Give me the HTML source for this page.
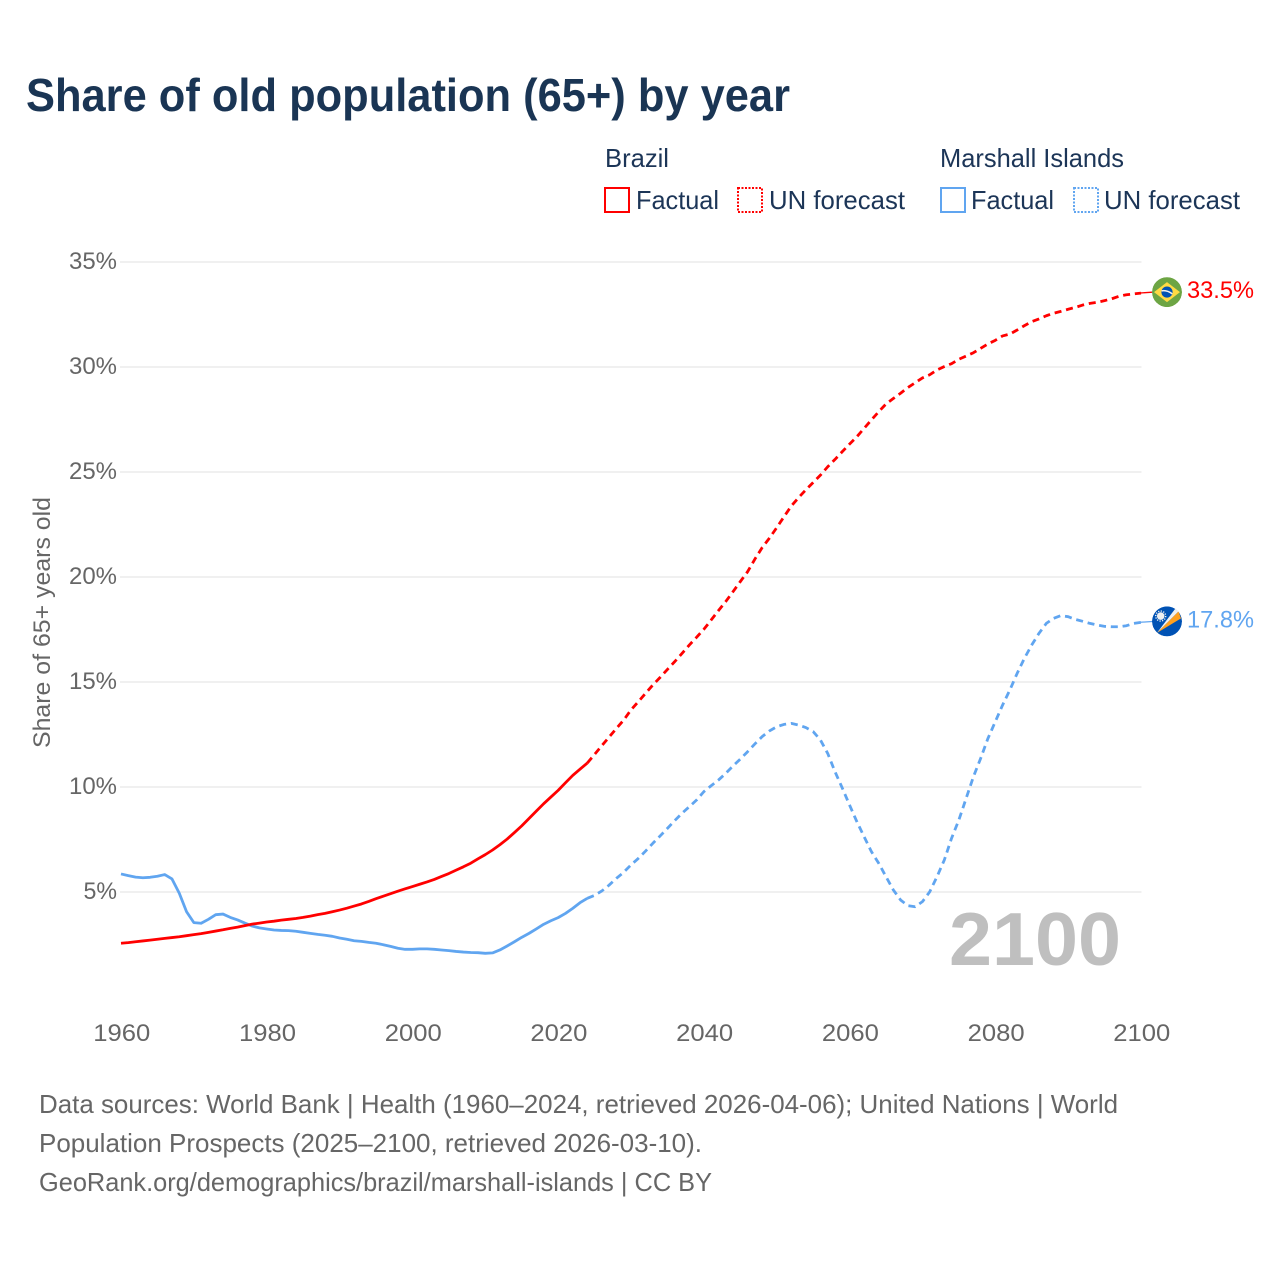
<!DOCTYPE html>
<html lang="en">
<head>
<meta charset="utf-8">
<title>Share of old population (65+) by year</title>
<style>
html,body{margin:0;padding:0;background:#fff;}
svg{display:block;font-family:"Liberation Sans",sans-serif;}
</style>
</head>
<body>
<svg id="chart" width="1280" height="1280" viewBox="0 0 1280 1280" xmlns="http://www.w3.org/2000/svg">
  <rect x="0" y="0" width="1280" height="1280" fill="#fff"/>
  <text x="26" y="111" font-size="46" font-weight="700" fill="#1a3554" textLength="764" lengthAdjust="spacingAndGlyphs">Share of old population (65+) by year</text>

  <g font-size="26" fill="#1c3557">
    <text x="605" y="167" textLength="64" lengthAdjust="spacingAndGlyphs">Brazil</text>
    <rect x="605" y="188" width="24" height="24" fill="none" stroke="#ff0000" stroke-width="2"/>
    <text x="636" y="209" textLength="83" lengthAdjust="spacingAndGlyphs">Factual</text>
    <rect x="738" y="188" width="24" height="24" fill="none" stroke="#ff0000" stroke-width="2" stroke-dasharray="2 1.5"/>
    <text x="769" y="209" textLength="136" lengthAdjust="spacingAndGlyphs">UN forecast</text>
    <text x="940" y="167" textLength="184" lengthAdjust="spacingAndGlyphs">Marshall Islands</text>
    <rect x="941" y="188" width="24" height="24" fill="none" stroke="#60a5f0" stroke-width="2"/>
    <text x="971" y="209" textLength="83" lengthAdjust="spacingAndGlyphs">Factual</text>
    <rect x="1074" y="188" width="24" height="24" fill="none" stroke="#60a5f0" stroke-width="2" stroke-dasharray="2 1.5"/>
    <text x="1104" y="209" textLength="136" lengthAdjust="spacingAndGlyphs">UN forecast</text>
  </g>

  <g id="grid"></g>
  <g id="yticks" font-size="24" fill="#666"></g>
  <g id="xticks" font-size="24" fill="#666"></g>
  <text transform="translate(50 622.5) rotate(-90)" text-anchor="middle" font-size="24" fill="#666" textLength="251" lengthAdjust="spacingAndGlyphs">Share of 65+ years old</text>

  <text x="949" y="965" font-size="75" font-weight="700" fill="#bfbfbf" textLength="172" lengthAdjust="spacingAndGlyphs">2100</text>

  <g id="series"></g>

  <defs>
    <clipPath id="flag-clip"><circle cx="0" cy="0" r="15"/></clipPath>
  </defs>
  <g id="flag-brazil">
    <g clip-path="url(#flag-clip)">
      <circle cx="0" cy="0" r="15" fill="#6da544"/>
      <polygon points="0,-10 13,0 0,10 -13,0" fill="#ffda44"/>
      <circle cx="0" cy="0" r="5.6" fill="#0052b4"/>
      <path d="M-5.4,-1.2 Q0,-2.2 5.2,1.8" fill="none" stroke="#f0f0f0" stroke-width="1.5"/>
    </g>
  </g>
  <g id="flag-marshall">
    <g clip-path="url(#flag-clip)">
      <circle cx="0" cy="0" r="15" fill="#0052b4"/>
      <polygon points="-10,11.5 11.5,-10 14,-3" fill="#ffa01e"/>
      <polygon points="-10,11.5 8.5,-13 11.5,-10" fill="#f0f0f0"/>
      <circle cx="-6.3" cy="-5.3" r="3.8" fill="#f0f0f0"/>
      <circle cx="-6.3" cy="-5.3" r="5" fill="none" stroke="#f0f0f0" stroke-width="1.4" stroke-dasharray="1.2 1.4"/>
    </g>
  </g>
  <text id="value-brazil" x="1187" font-size="24" fill="#ff0000" textLength="67" lengthAdjust="spacingAndGlyphs"></text>
  <text id="value-marshall" x="1187" font-size="24" fill="#60a5f0" textLength="67" lengthAdjust="spacingAndGlyphs"></text>

  <g font-size="26" fill="#666">
    <text x="39" y="1113" textLength="1079" lengthAdjust="spacingAndGlyphs">Data sources: World Bank | Health (1960–2024, retrieved 2026-04-06); United Nations | World</text>
    <text x="39" y="1152" textLength="663" lengthAdjust="spacingAndGlyphs">Population Prospects (2025–2100, retrieved 2026-03-10).</text>
    <text x="39" y="1191" textLength="673" lengthAdjust="spacingAndGlyphs">GeoRank.org/demographics/brazil/marshall-islands | CC BY</text>
  </g>
</svg>
<script>
const xTickLabels = [1960, 1980, 2000, 2020, 2040, 2060, 2080, 2100];
const yTickValues = [5, 10, 15, 20, 25, 30, 35];
const factualStartYear = 1960;
const forecastStartYear = 2024;
const brazilFactual = [2.56,2.59,2.63,2.67,2.71,2.75,2.79,2.83,2.87,2.92,2.97,3.02,3.08,3.14,3.2,3.27,3.33,3.4,3.47,3.52,3.57,3.61,3.66,3.7,3.74,3.79,3.85,3.92,3.98,4.06,4.14,4.23,4.33,4.43,4.55,4.68,4.8,4.92,5.04,5.15,5.26,5.37,5.48,5.6,5.74,5.88,6.04,6.2,6.37,6.58,6.78,7.0,7.25,7.52,7.83,8.15,8.5,8.85,9.2,9.52,9.84,10.2,10.55,10.85,11.14];
const brazilForecast = [11.14,11.55,11.97,12.38,12.79,13.19,13.67,14.06,14.46,14.86,15.22,15.6,15.97,16.36,16.76,17.13,17.51,17.95,18.4,18.83,19.3,19.78,20.25,20.85,21.4,21.85,22.35,22.87,23.38,23.78,24.15,24.5,24.85,25.25,25.6,25.97,26.33,26.68,27.08,27.48,27.87,28.24,28.5,28.75,29.02,29.25,29.48,29.63,29.86,30.02,30.16,30.37,30.52,30.68,30.89,31.1,31.27,31.48,31.57,31.76,31.97,32.16,32.29,32.44,32.56,32.65,32.75,32.84,32.95,33.03,33.08,33.16,33.25,33.37,33.44,33.48,33.52];
const marshallFactual = [5.86,5.78,5.71,5.68,5.7,5.75,5.83,5.62,4.94,4.06,3.54,3.51,3.7,3.92,3.95,3.79,3.67,3.52,3.38,3.29,3.24,3.19,3.17,3.16,3.13,3.08,3.03,2.98,2.94,2.89,2.81,2.75,2.68,2.65,2.6,2.56,2.49,2.41,2.32,2.27,2.27,2.29,2.29,2.27,2.24,2.21,2.17,2.14,2.12,2.11,2.08,2.1,2.24,2.43,2.63,2.84,3.03,3.24,3.46,3.63,3.78,3.98,4.22,4.49,4.7];
const marshallForecast = [4.7,4.84,5.05,5.33,5.65,5.94,6.29,6.6,6.95,7.32,7.67,8.03,8.4,8.75,9.06,9.38,9.78,10.06,10.33,10.65,11.0,11.33,11.68,12.05,12.4,12.67,12.87,12.98,13.03,12.95,12.83,12.64,12.24,11.6,10.73,9.95,9.14,8.35,7.63,6.92,6.37,5.73,5.1,4.62,4.35,4.3,4.54,5.01,5.73,6.52,7.56,8.43,9.46,10.49,11.37,12.32,13.11,13.9,14.62,15.41,16.13,16.76,17.32,17.79,18.03,18.16,18.11,17.98,17.89,17.79,17.71,17.65,17.63,17.63,17.68,17.79,17.84];

const SVGNS = 'http://www.w3.org/2000/svg';
const xScale = function (year) { return 121 + (year - 1960) * (1020 / 140); };
const yScale = function (value) { return 997 - value * 21; };

function makeSvg(tag, attrs) {
  const el = document.createElementNS(SVGNS, tag);
  Object.keys(attrs).forEach(function (k) { el.setAttribute(k, attrs[k]); });
  return el;
}
function pointsFor(values, startYear) {
  return values.map(function (v, i) {
    return xScale(startYear + i).toFixed(2) + ',' + yScale(v).toFixed(2);
  }).join(' ');
}

const gridGroup = document.getElementById('grid');
const yTickGroup = document.getElementById('yticks');
yTickValues.forEach(function (v) {
  const line = makeSvg('rect', { x: 120, y: yScale(v) - 1, width: 1021.5, height: 2, fill: '#f0f0f0' });
  
  
  gridGroup.appendChild(line);
  const label = makeSvg('text', { x: 117, y: yScale(v) + 7, 'text-anchor': 'end', textLength: String(v).length * 14.5 + 19, lengthAdjust: 'spacingAndGlyphs' });
  
  
  label.textContent = v + '%';
  yTickGroup.appendChild(label);
});

const xTickGroup = document.getElementById('xticks');
xTickLabels.forEach(function (year) {
  const label = makeSvg('text', { x: xScale(year) + 0.8, y: 1041, 'text-anchor': 'middle', textLength: 57, lengthAdjust: 'spacingAndGlyphs' });
  
  
  label.textContent = year;
  xTickGroup.appendChild(label);
});

const seriesGroup = document.getElementById('series');
function drawLine(values, startYear, color, dashed, name) {
  const attrs = { points: pointsFor(values, startYear), fill: 'none', stroke: color, 'stroke-width': 2.8, 'stroke-linejoin': 'round' };
  if (dashed) { attrs['stroke-dasharray'] = '7 4.8'; }
  const line = makeSvg('polyline', attrs);
  
  
  seriesGroup.appendChild(line);
}
drawLine(marshallFactual, factualStartYear, '#60a5f0', false, 'line-marshall-factual');
drawLine(marshallForecast, forecastStartYear, '#60a5f0', true, 'line-marshall-forecast');
drawLine(brazilFactual, factualStartYear, '#ff0000', false, 'line-brazil-factual');
drawLine(brazilForecast, forecastStartYear, '#ff0000', true, 'line-brazil-forecast');

function placeEnd(values, color, flagId, labelId, leaderName) {
  const last = values[values.length - 1];
  const cy = yScale(last) - 1;
  const endX = xScale(forecastStartYear + values.length - 1);
  const leader = makeSvg('line', { x1: endX - 2, y1: yScale(last), x2: 1154, y2: cy, stroke: color, 'stroke-width': 1.3 });
  
  
  seriesGroup.appendChild(leader);
  document.getElementById(flagId).setAttribute('transform', 'translate(1167 ' + cy + ')');
  const label = document.getElementById(labelId);
  label.setAttribute('y', cy + 6);
  label.textContent = last.toFixed(1) + '%';
}
placeEnd(brazilForecast, '#ff0000', 'flag-brazil', 'value-brazil', 'leader-brazil');
placeEnd(marshallForecast, '#60a5f0', 'flag-marshall', 'value-marshall', 'leader-marshall-islands');
</script>
</body>
</html>
